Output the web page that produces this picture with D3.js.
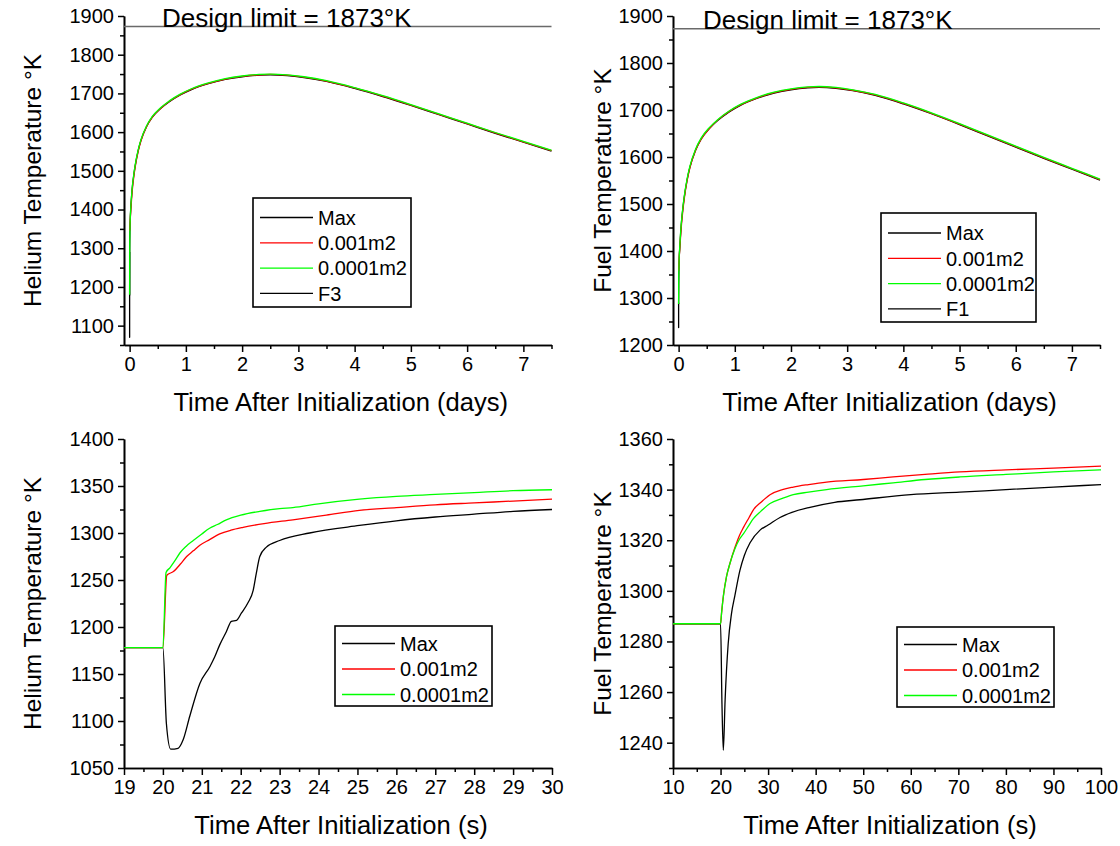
<!DOCTYPE html>
<html>
<head>
<meta charset="utf-8">
<script src="https://cdn.jsdelivr.net/npm/d3@7"></script>
<style>
  html, body { margin: 0; padding: 0; background: #fff; }
  svg { display: block; }
</style>
</head>
<body>
<svg id="chart" width="1120" height="846"></svg>
<script>
// ---------- data ----------
const seriesNames = ["Max", "0.001m2", "0.0001m2"];
const designLimit = 1873;

// Long-term transient (days)
const daysGrid = [0, 0.002, 0.006, 0.012, 0.02, 0.035, 0.05, 0.075, 0.1, 0.15, 0.2, 0.3, 0.4, 0.55, 0.7, 0.9, 1.1, 1.4, 1.7, 2.0, 2.3, 2.5, 2.8, 3.1, 3.5, 4.0, 4.5, 5.0, 5.5, 6.0, 6.5, 7.0, 7.5];

const heliumDaysMax   = [1178, 1296, 1347, 1378, 1402, 1435, 1460, 1490, 1514, 1551, 1578, 1614, 1638, 1661, 1678, 1696, 1710, 1725, 1736, 1743, 1747, 1748, 1746, 1741, 1731, 1713, 1692, 1669, 1645, 1621, 1597, 1574, 1551];
const heliumDays001   = [1345, 1350, 1362, 1377, 1396, 1428, 1454, 1486, 1511, 1549, 1577, 1614, 1638, 1661, 1679, 1697, 1711, 1726, 1737, 1744, 1748, 1749, 1747, 1742, 1732, 1714, 1693, 1670, 1646, 1622, 1598, 1575, 1552];
const heliumDays0001  = [1180, 1300, 1350, 1380, 1404, 1437, 1462, 1492, 1516, 1553, 1580, 1616, 1640, 1663, 1680, 1698, 1712, 1727, 1738, 1745, 1749, 1750, 1748, 1743, 1733, 1715, 1694, 1671, 1647, 1623, 1599, 1576, 1553];
const heliumF3Days    = [0, 0.0001, 0.0002, 0.0003];
const heliumF3        = [1178, 1070, 1071, 1290];

const fuelDaysMax     = [1287, 1326, 1362, 1388, 1406, 1436, 1460, 1490, 1514, 1551, 1578, 1614, 1638, 1661, 1678, 1696, 1710, 1725, 1736, 1743, 1747, 1748, 1746, 1741, 1731, 1713, 1692, 1669, 1645, 1621, 1597, 1574, 1551];
const fuelDays001     = [1358, 1365, 1376, 1390, 1403, 1431, 1455, 1486, 1511, 1549, 1577, 1614, 1638, 1661, 1679, 1697, 1711, 1726, 1737, 1744, 1748, 1749, 1747, 1742, 1732, 1714, 1693, 1670, 1646, 1622, 1598, 1575, 1552];
const fuelDays0001    = [1287, 1330, 1366, 1391, 1409, 1439, 1462, 1492, 1516, 1553, 1580, 1616, 1640, 1663, 1680, 1698, 1712, 1727, 1738, 1745, 1749, 1750, 1748, 1743, 1733, 1715, 1694, 1671, 1647, 1623, 1599, 1576, 1553];
const fuelF1Days      = [0, 0.0001, 0.0002, 0.0003];
const fuelF1          = [1287, 1237, 1250, 1290];

// Early transient, helium (seconds)
const heliumSecMaxT   = [19, 20, 20.09, 20.2, 20.39, 20.52, 20.69, 20.95, 21.21, 21.33, 21.46, 21.63, 21.76, 21.89, 22.02, 22.19, 22.32, 22.4, 22.49, 22.66, 23.0, 23.77, 25.05, 26, 27, 28, 29, 30];
const heliumSecMax    = [1178, 1178, 1097, 1070, 1071, 1080, 1105, 1140, 1158, 1168, 1181, 1195, 1206, 1207, 1215, 1226, 1239, 1257, 1275, 1285, 1292, 1300, 1308, 1313, 1317, 1320, 1323, 1325];
const heliumSec001T   = [19, 20, 20.1, 20.27, 20.45, 20.61, 20.78, 20.95, 21.2, 21.46, 21.75, 22.06, 22.6, 23.34, 24.2, 25.05, 26, 27, 28, 29, 30];
const heliumSec001    = [1178, 1178, 1255, 1259, 1267, 1275, 1281, 1287, 1293, 1299, 1303, 1306, 1310, 1314, 1319, 1324, 1327, 1330, 1332, 1334, 1336];
const heliumSec0001T  = [19, 20, 20.08, 20.18, 20.3, 20.44, 20.6, 20.78, 21.0, 21.2, 21.4, 21.63, 22.0, 22.49, 23.0, 23.34, 24.0, 25.05, 26, 27, 28, 29, 30];
const heliumSec0001   = [1178, 1178, 1258, 1263, 1270, 1279, 1286, 1292, 1299, 1305, 1309, 1314, 1319, 1323, 1326, 1327, 1331, 1336, 1339, 1341, 1343, 1345, 1346];

// Early transient, fuel (seconds)
const fuelSecMaxT     = [10, 20, 20.3, 20.58, 20.96, 21.6, 22.3, 23.0, 24.06, 25, 26.2, 28.3, 30, 32.5, 35, 38.8, 44, 49.3, 60, 70.3, 80, 90, 100];
const fuelSecMax      = [1287, 1287, 1255, 1237, 1257, 1279, 1291, 1298, 1308, 1314, 1319, 1324, 1326, 1329, 1331, 1333, 1335, 1336, 1338, 1339, 1340, 1341, 1342];
const fuelSecT        = [10, 20, 20.2, 20.6, 21.25, 22, 23, 24, 24.8, 26, 26.9, 28.5, 30.4, 33, 35.3, 38.5, 42.3, 50, 56.3, 63, 70.3, 80, 90, 100];
const fuelSec001      = [1287, 1287, 1291, 1298, 1305.6, 1311, 1317, 1322, 1325, 1329, 1332, 1335, 1338, 1340, 1341, 1342, 1343, 1344, 1345, 1346, 1347, 1347.8, 1348.5, 1349.3];
const fuelSec0001     = [1287, 1287, 1291, 1298, 1305.6, 1311, 1316.5, 1320.5, 1322.5, 1326, 1328.5, 1331.5, 1334.5, 1336.5, 1338, 1339, 1340, 1341.5, 1342.7, 1344, 1345, 1346, 1347, 1347.8];

// Axis ticks
const daysTicks   = d3.range(0, 8, 1);
const daysMinor   = d3.range(0.5, 7.6, 1);
const heliumDayTicks = d3.range(1100, 1901, 100);
const heliumDayMinor = d3.range(1050, 1901, 100);
const fuelDayTicks   = d3.range(1200, 1901, 100);
const fuelDayMinor   = d3.range(1250, 1901, 100);
const heliumSecXTicks = d3.range(19, 31, 1);
const heliumSecXMinor = d3.range(19.5, 30, 1);
const heliumSecYTicks = d3.range(1050, 1401, 50);
const heliumSecYMinor = d3.range(1075, 1400, 50);
const fuelSecXTicks = d3.range(10, 101, 10);
const fuelSecXMinor = d3.range(15, 100, 10);
const fuelSecYTicks = d3.range(1240, 1361, 20);
const fuelSecYMinor = d3.range(1230, 1361, 20);

// ---------- drawing ----------
const FONT = "'Liberation Sans', Arial, Helvetica, sans-serif";
const COLORS = { Max: "#000000", "0.001m2": "#ff0000", "0.0001m2": "#00ff00", F: "#000000" };
const svg = d3.select("#chart");
svg.append("rect").attr("width", 1120).attr("height", 846).attr("fill", "#fff");

const zip = (xs, ys) => xs.map((t, i) => [t, ys[i]]);

function styleAxis(g) {
  g.select(".domain").attr("stroke", "#000").attr("stroke-width", 1.6);
  g.selectAll(".tick line").attr("stroke", "#000").attr("stroke-width", 1.5);
  g.selectAll("text").attr("font-family", FONT).attr("font-size", 20).attr("fill", "#000");
}

function drawPanel(p) {
  const g = svg.append("g");
  const x = d3.scaleLinear().domain(p.xDomain).range([p.left, p.right]);
  const y = d3.scaleLinear().domain(p.yDomain).range([p.bottom, p.top]);

  // minor ticks
  g.append("g").attr("transform", `translate(0,${p.bottom})`)
    .call(d3.axisBottom(x).tickValues(p.xMinor).tickSize(4).tickSizeOuter(0).tickFormat(""))
    .call(styleAxis);
  g.append("g").attr("transform", `translate(${p.left},0)`)
    .call(d3.axisLeft(y).tickValues(p.yMinor).tickSize(4).tickSizeOuter(0).tickFormat(""))
    .call(styleAxis);
  // major ticks
  g.append("g").attr("transform", `translate(0,${p.bottom})`)
    .call(d3.axisBottom(x).tickValues(p.xTicks).tickSize(7).tickPadding(5).tickSizeOuter(0).tickFormat(d3.format("d")))
    .call(styleAxis);
  g.append("g").attr("transform", `translate(${p.left},0)`)
    .call(d3.axisLeft(y).tickValues(p.yTicks).tickSize(6).tickPadding(4).tickSizeOuter(0).tickFormat(d3.format("d")))
    .call(styleAxis);

  // design limit
  if (p.limit) {
    g.append("line")
      .attr("x1", x.range()[0]).attr("x2", x.range()[1])
      .attr("y1", y(designLimit)).attr("y2", y(designLimit))
      .attr("stroke", "#6a6a6a").attr("stroke-width", 1.5);
    g.append("text")
      .attr("x", p.limitTextX).attr("y", y(designLimit) + 0.5)
      .attr("font-family", FONT).attr("font-size", 26).attr("fill", "#000")
      .text(`Design limit = ${designLimit}°K`);
  }

  // curves
  const line = d3.line().x(d => x(d[0])).y(d => y(d[1])).curve(d3.curveMonotoneX);
  p.series.forEach(s => {
    g.append("path")
      .datum(zip(s.t, s.v))
      .attr("d", line)
      .attr("fill", "none")
      .attr("stroke", s.color)
      .attr("stroke-width", 1.3)
      .attr("stroke-linejoin", "round");
  });

  // axis titles
  g.append("text")
    .attr("x", (p.left + p.right) / 2 + 3).attr("y", p.bottom + 66)
    .attr("text-anchor", "middle")
    .attr("font-family", FONT).attr("font-size", 25.6).attr("fill", "#000")
    .text(p.xTitle);
  g.append("text")
    .attr("transform", `translate(${p.yTitleX},${(p.top + p.bottom) / 2}) rotate(-90)`)
    .attr("text-anchor", "middle")
    .attr("font-family", FONT).attr("font-size", 24.5).attr("fill", "#000")
    .text(p.yTitle);

  // legend
  const L = p.legend;
  const lg = g.append("g");
  lg.append("rect")
    .attr("x", L.x).attr("y", L.y).attr("width", L.w).attr("height", L.h)
    .attr("fill", "#fff").attr("stroke", "#000").attr("stroke-width", 1.6);
  L.entries.forEach((e, i) => {
    const ey = L.y + L.first + i * L.step;
    lg.append("line")
      .attr("x1", L.x + 7).attr("x2", L.x + 60)
      .attr("y1", ey).attr("y2", ey)
      .attr("stroke", e.color).attr("stroke-width", 1.3);
    lg.append("text")
      .attr("x", L.x + 65).attr("y", ey).attr("dy", "0.36em")
      .attr("font-family", FONT).attr("font-size", 20).attr("fill", "#000")
      .text(e.name);
  });
}

const legendEntries = names => names.map(n => ({ name: n, color: COLORS[n] || "#000" }));

// Top left: helium, days
drawPanel({
  left: 124, right: 551.5, top: 16, bottom: 345,
  xDomain: [-0.1, 7.5], yDomain: [1050, 1900],
  xTicks: daysTicks, xMinor: daysMinor, yTicks: heliumDayTicks, yMinor: heliumDayMinor,
  limit: true, limitTextX: 162,
  series: [
    { t: heliumF3Days, v: heliumF3, color: COLORS.F },
    { t: daysGrid, v: heliumDaysMax, color: COLORS.Max },
    { t: daysGrid, v: heliumDays001, color: COLORS["0.001m2"] },
    { t: daysGrid, v: heliumDays0001, color: COLORS["0.0001m2"] }
  ],
  xTitle: "Time After Initialization (days)", yTitle: "Helium Temperature °K", yTitleX: 41,
  legend: { x: 253, y: 198, w: 158, h: 109, first: 19.5, step: 25.3,
            entries: legendEntries([...seriesNames, "F3"]) }
});

// Top right: fuel, days
drawPanel({
  left: 673, right: 1100, top: 16, bottom: 345,
  xDomain: [-0.1, 7.5], yDomain: [1200, 1900],
  xTicks: daysTicks, xMinor: daysMinor, yTicks: fuelDayTicks, yMinor: fuelDayMinor,
  limit: true, limitTextX: 703,
  series: [
    { t: fuelF1Days, v: fuelF1, color: COLORS.F },
    { t: daysGrid, v: fuelDaysMax, color: COLORS.Max },
    { t: daysGrid, v: fuelDays001, color: COLORS["0.001m2"] },
    { t: daysGrid, v: fuelDays0001, color: COLORS["0.0001m2"] }
  ],
  xTitle: "Time After Initialization (days)", yTitle: "Fuel Temperature °K", yTitleX: 611,
  legend: { x: 881, y: 213, w: 155, h: 109, first: 20, step: 25.3,
            entries: legendEntries([...seriesNames, "F1"]) }
});

// Bottom left: helium, seconds
drawPanel({
  left: 124, right: 552, top: 439, bottom: 768,
  xDomain: [19, 30], yDomain: [1050, 1400],
  xTicks: heliumSecXTicks, xMinor: heliumSecXMinor, yTicks: heliumSecYTicks, yMinor: heliumSecYMinor,
  limit: false,
  series: [
    { t: heliumSecMaxT, v: heliumSecMax, color: COLORS.Max },
    { t: heliumSec001T, v: heliumSec001, color: COLORS["0.001m2"] },
    { t: heliumSec0001T, v: heliumSec0001, color: COLORS["0.0001m2"] }
  ],
  xTitle: "Time After Initialization (s)", yTitle: "Helium Temperature °K", yTitleX: 41,
  legend: { x: 335, y: 626, w: 157, h: 80, first: 17.5, step: 25.5,
            entries: legendEntries(seriesNames) }
});

// Bottom right: fuel, seconds
drawPanel({
  left: 673, right: 1101, top: 439, bottom: 768,
  xDomain: [10, 100], yDomain: [1230, 1360],
  xTicks: fuelSecXTicks, xMinor: fuelSecXMinor, yTicks: fuelSecYTicks, yMinor: fuelSecYMinor,
  limit: false,
  series: [
    { t: fuelSecMaxT, v: fuelSecMax, color: COLORS.Max },
    { t: fuelSecT, v: fuelSec001, color: COLORS["0.001m2"] },
    { t: fuelSecT, v: fuelSec0001, color: COLORS["0.0001m2"] }
  ],
  xTitle: "Time After Initialization (s)", yTitle: "Fuel Temperature °K", yTitleX: 611,
  legend: { x: 897, y: 627, w: 157, h: 80, first: 17.5, step: 25.5,
            entries: legendEntries(seriesNames) }
});
</script>
</body>
</html>
